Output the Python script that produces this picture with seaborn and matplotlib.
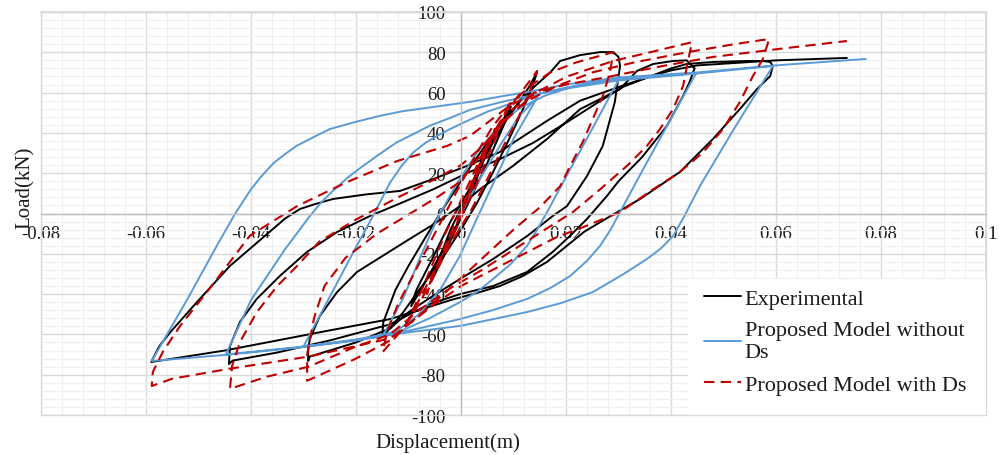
import pandas as pd
import matplotlib.pyplot as plt
import seaborn as sns
from matplotlib.ticker import MultipleLocator
from matplotlib.patches import Rectangle

# Experimental curve (displacement in m, load in kN), one branch per line
exp_disp = [
    0, 0.002, 0.004, 0.0055, 0.0045, 0.002, -0.001, -0.004, -0.0055, -0.0045, -0.002, 0.001, 0.004, 0.007, 0.0095,
    0.0085, 0.005, 0.001, -0.003, -0.007, -0.0095, -0.0085, -0.005, -0.002, 0.002, 0.005, 0.008, 0.011, 0.013, 0.0145,
    0.0135, 0.0115, 0.009, 0.006, 0.003, 0.0, -0.004, -0.008, -0.011, -0.0135, -0.015,
    -0.0148, -0.0125, -0.010, -0.0068, -0.004, -0.001, 0.002, 0.005, 0.008, 0.011, 0.014, 0.017, 0.0189, 0.0227, 0.0265, 0.029, 0.030, 0.0303,
    0.0293, 0.027, 0.024, 0.0202, 0.0175, 0.0126, 0.0061, -0.0002, -0.006, -0.010, -0.0135, -0.020, -0.025, -0.0288, -0.0291,
    -0.0291, -0.0288, -0.0269, -0.0236, -0.0198, -0.0149, -0.010, -0.005, 0.0, 0.0036, 0.0099, 0.0164, 0.0227, 0.0303, 0.0335, 0.0366, 0.0404, 0.043, 0.0445,
    0.0435, 0.0423, 0.0392, 0.0345, 0.030, 0.0278, 0.024, 0.0208, 0.0175, 0.0126, 0.0061, -0.0002, -0.006, -0.0135, -0.025, -0.035, -0.0435, -0.0442,
    -0.044, -0.0421, -0.0389, -0.0345, -0.0293, -0.0236, -0.0173, -0.0116, -0.0053, 0.0011, 0.0074, 0.0137, 0.020, 0.026, 0.031, 0.036, 0.040, 0.043, 0.048, 0.0545, 0.0575, 0.0589, 0.0594,
    0.0589, 0.0564, 0.0531, 0.048, 0.0417, 0.0341, 0.028, 0.0235, 0.0202, 0.0164, 0.0118, 0.0074, 0.0036, -0.002, -0.0135, -0.025, -0.035, -0.045, -0.059,
    -0.0575, -0.0554, -0.0503, -0.044, -0.0364, -0.0335, -0.0307, -0.028, -0.0244, -0.018, -0.0116, -0.0053, 0.0011, 0.0074, 0.0099, 0.0164, 0.0227, 0.0303, 0.036, 0.040, 0.045, 0.060, 0.0735,
]
exp_load = [
    0, 14, 27, 35, 28, 10, -8, -25, -33, -25, -8, 8, 26, 42, 53,
    46, 25, 3, -16, -35, -46, -38, -20, -4, 14, 30, 44, 55, 63, 70.2,
    62, 50, 36, 20, 5, -8, -24, -38, -49, -57, -61,
    -54, -38, -26, -12, 0, 12, 24, 35, 46, 55, 63, 70, 75.7, 78.6, 80.1, 80.1, 77.7, 73.2,
    55.3, 33.5, 18.6, 3.7, -1.2, -11.2, -22.6, -32.5, -42, -49, -57, -64, -68, -71, -73.2,
    -68, -62.3, -50.9, -39, -29, -21, -13, -5, 4, 12, 23.6, 37, 51.8, 61.8, 70.7, 74.2, 75.7, 76, 72,
    65, 58.3, 43.4, 28, 16, 8.7, -2.7, -11, -19, -29, -36, -40, -45, -55, -63, -69, -73, -74.7,
    -65.8, -53.8, -42.4, -31, -19, -9.2, -1.2, 5, 12, 20, 27, 35, 45, 55, 63, 68, 72, 74.2, 75.2, 75.7, 75.7, 75.2, 73.2,
    68.2, 61.8, 51.8, 37, 20.6, 7.2, -2, -9, -16, -24, -31, -36, -39, -43, -52.4, -58, -63, -68, -73.7,
    -66, -59, -44, -26, -9, -2.5, 2.2, 4.5, 7.2, 9.5, 11.2, 17.1, 23.6, 30.5, 35, 46, 56, 63, 68, 71, 73.5, 76, 77.2,
]

# Proposed model without Ds
nods_disp = [
    0, 0.004, 0.008, 0.011, 0.0145,
    0.010, 0.0074, 0.0036, -0.0002, -0.004, -0.008, -0.0116, -0.0149,
    -0.0110, -0.0078, -0.0046, -0.001, 0.003, 0.007, 0.011, 0.016, 0.022, 0.0303,
    0.025, 0.0208, 0.0164, 0.0145, 0.0126, 0.0095, 0.0061, 0.003, -0.0002, -0.006, -0.0116, -0.020, -0.030,
    -0.0202, -0.0167, -0.0135, -0.0112, -0.0091, -0.0068, -0.0046, -0.002, 0.0004, 0.005, 0.010, 0.015, 0.020, 0.030, 0.0448,
    0.0347, 0.0303, 0.0285, 0.0265, 0.024, 0.0208, 0.017, 0.0126, 0.006, -0.0002, -0.008, -0.0149, -0.022, -0.030, -0.0448,
    -0.040, -0.0335, -0.029, -0.0268, -0.0245, -0.0215, -0.0186, -0.0155, -0.0123, -0.009, -0.006, -0.002, 0.0017, 0.008, 0.014, 0.020, 0.030, 0.045, 0.0594,
    0.052, 0.0455, 0.0425, 0.0404, 0.038, 0.0354, 0.031, 0.0251, 0.019, 0.0126, 0.006, -0.0002, -0.0116, -0.020, -0.030, -0.045, -0.0589,
    -0.052, -0.0465, -0.043, -0.0415, -0.040, -0.038, -0.0357, -0.0335, -0.0313, -0.028, -0.025, -0.020, -0.0154, -0.011, -0.006,
    0.0017, 0.0074, 0.012, 0.020, 0.030, 0.045, 0.0594, 0.0771,
]
nods_load = [
    0, 19, 36, 48, 57.5,
    37, 22, 0.7, -21, -38, -50, -57, -60.9,
    -42, -22, -3, 14, 30, 43, 52, 58.5, 63.5, 67.7,
    42, 22, 0.7, -8, -16, -25, -32.5, -39, -44, -52, -58.5, -62.5, -66,
    -17.7, -1, 15.4, 24, 30.3, 35, 38.5, 42, 45, 50.5, 55, 59.5, 62.5, 66.5, 69.7,
    22, 0.7, -8, -16, -23.5, -31, -37, -42.4, -48, -52.4, -57, -60.9, -63.5, -66, -70,
    -43, -17.7, -2, 5, 11, 18, 23.7, 29.5, 35.2, 39.5, 43.5, 47.5, 51.4, 55.5, 59, 62, 66, 69.5, 73.2,
    42, 13.6, -1.5, -11.2, -17.5, -22.6, -30, -39, -44.5, -48.9, -52.5, -55.8, -59.5, -63, -66.3, -70.2, -73.2,
    -42, -16, 0, 6, 12, 18.5, 25, 29.5, 33.6, 38, 41.9, 45.5, 48.5, 50.8, 52.6,
    55.4, 58, 60, 64, 67.5, 70, 73.4, 76.7,
]

# Proposed model with Ds
ds_disp = [
    0, 0.003, 0.006, 0.0065, 0.004, 0.0, -0.003, -0.006, -0.0065, -0.004, 0.0, 0.004, 0.008, 0.0095,
    0.007, 0.003, -0.001, -0.005, -0.009, -0.010, -0.007, -0.003, 0.001, 0.005, 0.009, 0.012, 0.0145,
    0.013, 0.011, 0.008, 0.005, 0.002, -0.002, -0.005, -0.008, -0.011, -0.0149,
    -0.014, -0.012, -0.009, -0.006, -0.003, 0.0, 0.003, 0.006, 0.009, 0.013, 0.017, 0.022, 0.029,
    0.0284, 0.027, 0.0251, 0.0232, 0.0208, 0.0189, 0.015, 0.010, 0.005, 0.0, -0.005, -0.010, -0.0135, -0.020, -0.0293,
    -0.0293, -0.028, -0.026, -0.022, -0.016, -0.0046, 0.0, 0.004, 0.008, 0.0099, 0.015, 0.0202, 0.029, 0.036, 0.044,
    0.0432, 0.0423, 0.0404, 0.0379, 0.0354, 0.0316, 0.0265, 0.0213, 0.016, 0.010, 0.004, -0.002, -0.008, -0.0135, -0.020, -0.029, -0.037, -0.044,
    -0.0436, -0.0421, -0.0389, -0.035, -0.0312, -0.027, -0.020, -0.012, -0.005, 0.0, 0.004, 0.008, 0.012, 0.018, 0.025, 0.033, 0.043, 0.052, 0.0587,
    0.0575, 0.0556, 0.0531, 0.0499, 0.0461, 0.0417, 0.0366, 0.0303, 0.024, 0.018, 0.012, 0.006, 0.0, -0.005, -0.010, -0.0135, -0.029, -0.044, -0.055, -0.0589,
    -0.0587, -0.0568, -0.0535, -0.0484, -0.044, -0.0402, -0.0312, -0.0217, -0.0122, -0.0027, 0.0017, 0.005, 0.009, 0.014, 0.020, 0.0278, 0.038, 0.048, 0.060, 0.0735,
]
ds_load = [
    0, 20, 38, 42, 25, 0, -18, -35, -40, -22, 2, 28, 48, 56,
    40, 15, -8, -28, -48, -53, -35, -10, 12, 35, 52, 62, 70.7,
    60, 48, 33, 17, 2, -15, -30, -45, -57, -68.7,
    -58, -45, -30, -15, 0, 15, 30, 43, 53, 63, 70, 75, 80.1,
    70.2, 58.3, 46.9, 35.5, 23.6, 13.6, 3, -8, -20, -32, -44, -55, -63, -72, -83,
    -70, -52, -36, -22, -10, 8, 16, 30, 45, 52, 61, 68, 75.7, 80, 85,
    75.2, 63.3, 51.8, 41.9, 33.5, 23.6, 12, 0.7, -8, -18, -28, -37, -48, -60, -66, -76, -81, -87,
    -75.7, -63.8, -49, -36, -26, -14, -3, 8, 17, 24, 33, 45, 55, 63, 70, 75, 80, 84, 86.6,
    76.7, 68.2, 55.3, 41.9, 30.3, 20.6, 12, 0.7, -6, -12, -20, -28, -36, -45, -55, -62, -71, -77, -82, -85.6,
    -78.7, -68.7, -55.8, -39, -24, -11, 3.7, 15.6, 26, 33.5, 38.5, 45, 53, 60, 64, 67.7, 73, 77.7, 81.5, 85.6,
]

x_ticks = [-0.08, -0.06, -0.04, -0.02, 0, 0.02, 0.04, 0.06, 0.08, 0.1]
x_tick_labels = ["-0.08", "-0.06", "-0.04", "-0.02", "0", "0.02", "0.04", "0.06", "0.08", "0.1"]
y_ticks = [-100, -80, -60, -40, -20, 0, 20, 40, 60, 80, 100]
y_tick_labels = ["-100", "-80", "-60", "-40", "-20", "0", "20", "40", "60", "80", "100"]

sns.set_theme(style="white")
plt.rcParams["font.family"] = ["Liberation Serif", "DejaVu Serif"]

fig = plt.figure(figsize=(9.99, 4.56), dpi=100)
ax = fig.add_axes([0.041, 0.0877, 0.946, 0.8838])

exp_df = pd.DataFrame({"disp": exp_disp, "load": exp_load})
nods_df = pd.DataFrame({"disp": nods_disp, "load": nods_load})
ds_df = pd.DataFrame({"disp": ds_disp, "load": ds_load})

sns.lineplot(data=exp_df, x="disp", y="load", sort=False, estimator=None, ax=ax,
             color="black", linewidth=1.4, label="Experimental")
sns.lineplot(data=nods_df, x="disp", y="load", sort=False, estimator=None, ax=ax,
             color="#5B9BD5", linewidth=1.4, label="Proposed Model without\nDs")
sns.lineplot(data=ds_df, x="disp", y="load", sort=False, estimator=None, ax=ax,
             color="#C00000", linewidth=1.5, linestyle=(0, (5, 3)), label="Proposed Model with Ds")

ax.set_xlim(-0.08, 0.1)
ax.set_ylim(-100, 100)
ax.set_xticks(x_ticks)
ax.set_xticklabels(x_tick_labels)
ax.set_yticks(y_ticks)
ax.set_yticklabels(y_tick_labels)
ax.xaxis.set_minor_locator(MultipleLocator(0.004))
ax.yaxis.set_minor_locator(MultipleLocator(4))
ax.grid(which="minor", color="#f0f0f0", linewidth=0.8)
ax.grid(which="major", color="#d9d9d9", linewidth=1.0)
ax.set_axisbelow(True)
ax.tick_params(which="both", length=0, labelsize=13.5, colors="#1a1a1a")
ax.tick_params(axis="x", pad=8)
ax.tick_params(axis="y", pad=11)

# axes cross at the origin, like the spreadsheet chart
ax.spines["bottom"].set_position("zero")
ax.spines["left"].set_position("zero")
for side in ["bottom", "left"]:
    ax.spines[side].set_color("#bfbfbf")
    ax.spines[side].set_linewidth(1.0)
for side in ["top", "right"]:
    ax.spines[side].set_color("#d9d9d9")
ax.add_patch(Rectangle((0, 0), 1, 1, transform=ax.transAxes, fill=False,
                       edgecolor="#d9d9d9", linewidth=1.0, clip_on=False))

ax.set_xlabel("Displacement(m)", fontsize=15, color="#1a1a1a")
ax.set_ylabel("Load(kN)", fontsize=15, color="#1a1a1a")
ax.xaxis.set_label_coords(0.431, -0.042)
ax.yaxis.set_label_coords(-0.006, 0.566)

# white legend area in the lower right corner
ax.add_patch(Rectangle((0.685, 0.0), 0.315, 0.337, transform=ax.transAxes,
                       facecolor="white", edgecolor="none", zorder=4))
leg = ax.legend(loc="lower right", frameon=False, borderaxespad=0.1, fontsize=16,
                handlelength=1.7, handletextpad=0.15, labelspacing=0.55, borderpad=0.8)
for text in leg.get_texts():
    text.set_color("#1a1a1a")

fig.savefig("out.png", dpi=100)
